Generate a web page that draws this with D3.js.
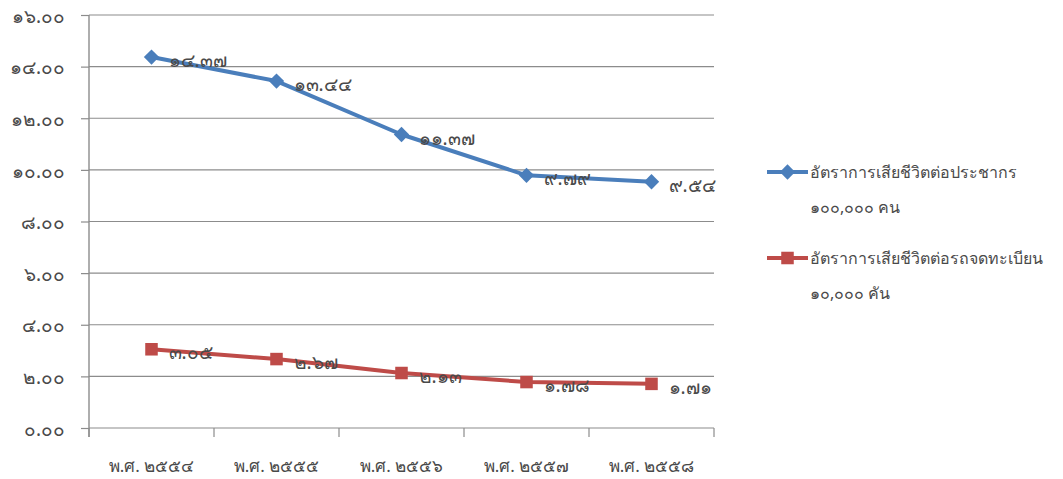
<!DOCTYPE html>
<html>
<head>
<meta charset="utf-8">
<script src="https://cdn.jsdelivr.net/npm/d3@7"></script>
<style>
  html, body { margin: 0; padding: 0; background: #fff; }
  svg text { font-family: Tahoma, "Noto Sans", "DejaVu Sans", sans-serif; font-weight: normal; }
</style>
</head>
<body>
<svg id="chart" width="1063" height="479"></svg>
<script>
// Years (Buddhist era) along the category axis
const categories = ["พ.ศ. ๒๕๕๔", "พ.ศ. ๒๕๕๕", "พ.ศ. ๒๕๕๖", "พ.ศ. ๒๕๕๗", "พ.ศ. ๒๕๕๘"];
// Deaths per 100,000 population
const perPopulation = [14.37, 13.44, 11.37, 9.79, 9.54];
// Deaths per 10,000 registered vehicles
const perVehicles = [3.05, 2.67, 2.13, 1.78, 1.71];
const seriesNames = [
  ["อัตราการเสียชีวิตต่อประชากร", "๑๐๐,๐๐๐ คน"],
  ["อัตราการเสียชีวิตต่อรถจดทะเบียน", "๑๐,๐๐๐ คัน"]
];
const yTicks = [0, 2, 4, 6, 8, 10, 12, 14, 16];

const thaiDigits = "๐๑๒๓๔๕๖๗๘๙";
const toThai = s => String(s).replace(/[0-9]/g, d => thaiDigits[+d]);

const svg = d3.select("#chart");
const plotLeft = 89, plotRight = 714, plotTop = 15, plotBottom = 428;
const textColor = "#4a4a4a";

const x = d3.scaleBand().domain(categories).range([plotLeft, plotRight]);
const y = d3.scaleLinear().domain([0, 16]).range([plotBottom, plotTop]);

// Value axis labels with short outward ticks
svg.append("g")
  .attr("transform", `translate(${plotLeft},0)`)
  .call(d3.axisLeft(y).tickValues(yTicks).tickSize(8).tickFormat(d => toThai(d.toFixed(2))))
  .call(g => g.select(".domain").remove())
  .call(g => g.selectAll(".tick line").attr("stroke", "#8c8c8c").attr("stroke-width", 1.2))
  .call(g => g.selectAll(".tick text").attr("x", -24).attr("dy", "0.38em")
    .attr("fill", textColor).style("font-size", "19px"));

// Horizontal gridlines
svg.append("g").selectAll("line").data(yTicks).join("line")
  .attr("x1", plotLeft).attr("x2", plotRight)
  .attr("y1", d => y(d)).attr("y2", d => y(d))
  .attr("stroke", "#8c8c8c").attr("stroke-width", 1.2);

// Vertical value axis line
svg.append("line")
  .attr("x1", plotLeft).attr("x2", plotLeft).attr("y1", plotTop).attr("y2", plotBottom + 9)
  .attr("stroke", "#8c8c8c").attr("stroke-width", 1.4);

// Category axis ticks between categories
const catTicks = categories.map(c => x(c)).concat([plotRight]);
svg.append("g").selectAll("line").data(catTicks).join("line")
  .attr("x1", d => d).attr("x2", d => d)
  .attr("y1", plotBottom).attr("y2", plotBottom + 9)
  .attr("stroke", "#8c8c8c").attr("stroke-width", 1.2);

svg.append("g").selectAll("text").data(categories).join("text")
  .attr("x", d => x(d) + x.bandwidth() / 2)
  .attr("y", 472)
  .attr("text-anchor", "middle")
  .attr("fill", textColor)
  .style("font-size", "17px")
  .text(d => d);

const cx = d => x(d) + x.bandwidth() / 2;
const line = d3.line().x(d => cx(d.c)).y(d => y(d.v));

const series = [
  { values: perPopulation, color: "#4a7ebb", marker: d3.symbolDiamond2, size: 150 },
  { values: perVehicles, color: "#be4b48", marker: d3.symbolSquare2, size: 200 }
];

series.forEach(s => {
  const pts = categories.map((c, i) => ({ c, v: s.values[i] }));
  svg.append("path").datum(pts)
    .attr("d", line).attr("fill", "none")
    .attr("stroke", s.color).attr("stroke-width", 4)
    .attr("stroke-linejoin", "round");
  svg.append("g").selectAll("path").data(pts).join("path")
    .attr("transform", d => `translate(${cx(d.c)},${y(d.v)})`)
    .attr("d", d3.symbol(s.marker, s.size))
    .attr("fill", s.color);
  svg.append("g").selectAll("text").data(pts).join("text")
    .attr("x", d => cx(d.c) + 17)
    .attr("y", d => y(d.v) + 10)
    .attr("fill", textColor)
    .style("font-size", "19px")
    .text(d => toThai(d.v.toFixed(2)));
});

// Legend
const legendY = [172, 258];
series.forEach((s, i) => {
  const g = svg.append("g");
  g.append("line")
    .attr("x1", 767).attr("x2", 808)
    .attr("y1", legendY[i]).attr("y2", legendY[i])
    .attr("stroke", s.color).attr("stroke-width", 4);
  g.append("path")
    .attr("transform", `translate(787.5,${legendY[i]})`)
    .attr("d", d3.symbol(s.marker, s.size))
    .attr("fill", s.color);
  g.append("text")
    .attr("x", 810).attr("y", legendY[i] + 6)
    .attr("fill", textColor).style("font-size", "16px")
    .text(seriesNames[i][0]);
  g.append("text")
    .attr("x", 810).attr("y", legendY[i] + 41)
    .attr("fill", textColor).style("font-size", "16px")
    .text(seriesNames[i][1]);
});
</script>
</body>
</html>
